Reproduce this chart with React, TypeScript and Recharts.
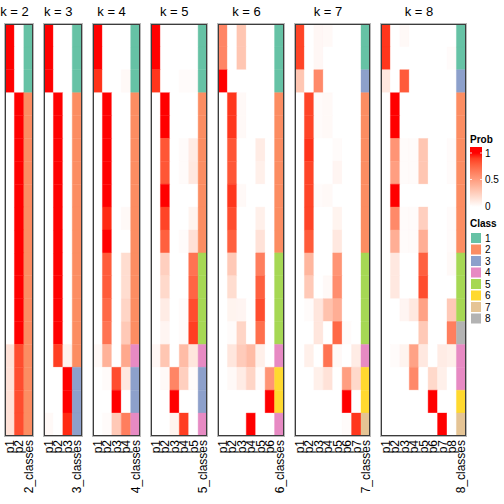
import React from 'react'
import { BarChart, Bar, XAxis, YAxis, Cell } from 'recharts'

// membership probabilities, 18 samples (rows) per k
const probs2 = [
  [1, 0], [1, 0], [1, 0],
  [0, 1], [0, 1], [0, 1], [0, 1], [0, 1], [0, 1], [0, 1], [0, 1], [0, 1], [0, 1], [0, 1],
  [0.15, 0.85], [0.15, 0.85], [0.15, 0.85], [0.15, 0.85],
]
const probs3 = [
  [1, 0, 0], [1, 0, 0], [1, 0, 0],
  [0, 1, 0], [0, 1, 0], [0, 1, 0], [0, 1, 0], [0, 1, 0], [0, 1, 0], [0, 1, 0], [0, 1, 0], [0, 1, 0], [0, 1, 0], [0, 1, 0],
  [0, 0.9, 0.07],
  [0, 0, 1], [0, 0, 1],
  [0.03, 0, 0.95],
]
const probs4 = [
  [1, 0, 0, 0], [1, 0, 0, 0], [0.93, 0, 0, 0.03],
  [0, 1, 0, 0], [0, 1, 0, 0], [0, 1, 0, 0], [0, 1, 0, 0], [0, 1, 0, 0],
  [0, 0.95, 0, 0.03], [0, 1, 0, 0],
  [0, 0.8, 0, 0.18], [0, 0.8, 0, 0.18], [0, 0.75, 0, 0.22], [0, 0.7, 0, 0.28],
  [0.03, 0.4, 0, 0.45],
  [0, 0.02, 0.85, 0.12], [0, 0, 1, 0],
  [0, 0.02, 0.28, 0.65],
]
const probs5 = [
  [1, 0, 0, 0, 0], [1, 0, 0, 0, 0], [0.92, 0, 0, 0.02, 0.02],
  [0, 1, 0, 0, 0], [0, 1, 0, 0, 0],
  [0, 0.82, 0, 0.02, 0.1], [0, 0.82, 0, 0.02, 0.12],
  [0, 1, 0, 0, 0], [0, 0.88, 0, 0, 0.06], [0, 0.78, 0, 0.02, 0.16],
  [0, 0.25, 0, 0, 0.7], [0, 0.2, 0, 0, 0.76], [0, 0.1, 0, 0.02, 0.85], [0, 0.05, 0, 0.02, 0.9],
  [0.04, 0.3, 0, 0.35, 0.13],
  [0, 0.03, 0.62, 0.25, 0.02], [0, 0, 1, 0, 0],
  [0, 0, 0.06, 0.9, 0],
]
const probs6 = [
  [0.62, 0, 0.3, 0, 0, 0], [0.62, 0, 0.3, 0, 0, 0], [1, 0, 0, 0, 0, 0],
  [0, 0.92, 0.03, 0, 0, 0], [0, 0.92, 0.03, 0, 0, 0],
  [0, 0.82, 0, 0, 0.1, 0], [0, 0.82, 0, 0, 0.08, 0],
  [0, 0.92, 0.03, 0, 0, 0], [0, 0.85, 0, 0, 0.08, 0], [0, 0.78, 0, 0, 0.15, 0],
  [0, 0.28, 0, 0, 0.65, 0], [0, 0.18, 0, 0, 0.78, 0], [0, 0.06, 0.05, 0, 0.85, 0], [0, 0.02, 0.22, 0, 0.72, 0],
  [0, 0.13, 0.27, 0.35, 0.08, 0],
  [0, 0.03, 0.1, 0.22, 0.02, 0.55], [0, 0, 0, 0, 0, 1],
  [0, 0, 0, 1, 0, 0],
]
const probs7 = [
  [0.88, 0, 0.04, 0.03, 0, 0, 0], [0.88, 0, 0.04, 0, 0, 0, 0], [0.3, 0, 0.6, 0, 0, 0, 0],
  [0, 0.88, 0.02, 0.03, 0, 0, 0], [0, 0.88, 0.02, 0.03, 0, 0, 0],
  [0, 0.93, 0, 0, 0.02, 0, 0], [0, 0.88, 0, 0, 0.05, 0, 0],
  [0, 0.88, 0.02, 0.03, 0, 0, 0], [0, 0.88, 0, 0, 0.06, 0, 0], [0, 0.8, 0, 0, 0.12, 0, 0],
  [0, 0.38, 0, 0, 0.55, 0, 0], [0, 0.28, 0, 0.03, 0.58, 0, 0],
  [0, 0.02, 0.13, 0.32, 0.42, 0, 0], [0, 0, 0.13, 0, 0.75, 0.02, 0],
  [0, 0.08, 0, 0.7, 0.03, 0, 0.1],
  [0, 0, 0.08, 0.15, 0, 0.5, 0.2], [0, 0, 0, 0, 0, 1, 0],
  [0, 0, 0, 0, 0, 0.02, 0.92],
]
const probs8 = [
  [0.92, 0, 0.03, 0, 0, 0, 0, 0], [0.92, 0, 0, 0, 0, 0, 0, 0.02], [0.12, 0, 0.8, 0, 0, 0, 0, 0],
  [0, 1, 0, 0, 0, 0, 0, 0], [0, 1, 0, 0, 0, 0, 0, 0],
  [0, 0.55, 0.02, 0.02, 0.3, 0, 0, 0.02], [0, 0.5, 0.02, 0.02, 0.3, 0, 0, 0.02],
  [0, 1, 0, 0, 0, 0, 0, 0],
  [0, 0.6, 0.02, 0.02, 0.25, 0, 0, 0.02], [0, 0.42, 0.02, 0.02, 0.42, 0, 0, 0.02],
  [0, 0.12, 0, 0, 0.78, 0, 0, 0.03], [0, 0.12, 0, 0, 0.85, 0, 0, 0],
  [0, 0, 0.05, 0.12, 0.48, 0, 0, 0.28],
  [0, 0, 0, 0, 0.28, 0, 0, 0.65],
  [0, 0.02, 0.06, 0.48, 0.12, 0, 0.1, 0.08], [0, 0, 0, 0.6, 0, 0.2, 0.08, 0],
  [0, 0, 0, 0, 0, 1, 0, 0],
  [0, 0, 0, 0, 0, 0, 1, 0],
]

// predicted class per row
const classes2 = [1, 1, 1, 2, 2, 2, 2, 2, 2, 2, 2, 2, 2, 2, 2, 2, 2, 2]
const classes3 = [1, 1, 1, 2, 2, 2, 2, 2, 2, 2, 2, 2, 2, 2, 2, 3, 3, 3]
const classes4 = [1, 1, 1, 2, 2, 2, 2, 2, 2, 2, 2, 2, 2, 2, 4, 3, 3, 4]
const classes5 = [1, 1, 1, 2, 2, 2, 2, 2, 2, 2, 5, 5, 5, 5, 4, 3, 3, 4]
const classes6 = [1, 1, 1, 2, 2, 2, 2, 2, 2, 2, 5, 5, 5, 5, 4, 6, 6, 4]
const classes7 = [1, 1, 3, 2, 2, 2, 2, 2, 2, 2, 5, 5, 5, 5, 4, 6, 6, 7]
const classes8 = [1, 1, 3, 2, 2, 2, 2, 2, 2, 2, 5, 5, 5, 8, 4, 4, 6, 7]

const classColors = ['#66C2A5', '#FC8D62', '#8DA0CB', '#E78AC3', '#A6D854', '#FFD92F', '#E5C494', '#B3B3B3']
const classLabels = ['1', '2', '3', '4', '5', '6', '7', '8']
const probTicks = [1, 0.5, 0]

const panels = [
  { k: 2, probs: probs2, classes: classes2 },
  { k: 3, probs: probs3, classes: classes3 },
  { k: 4, probs: probs4, classes: classes4 },
  { k: 5, probs: probs5, classes: classes5 },
  { k: 6, probs: probs6, classes: classes6 },
  { k: 7, probs: probs7, classes: classes7 },
  { k: 8, probs: probs8, classes: classes8 },
]

const N_ROWS = 18
const COL_W = 9.43
const GAP = 10.85
const LEFT0 = 5
const TOP = 24
const PLOT_H = 412
const AXIS_H = 70
const PAD = 10
const FONT = '"Liberation Sans", Arial, Helvetica, sans-serif'

// white -> red interpolated in LAB, like colorRamp2
const RED_LAB = [53.2408, 80.0925, 67.2032]
function probColor(p: number) {
  const L = 100 + (RED_LAB[0] - 100) * p
  const A = RED_LAB[1] * p
  const B = RED_LAB[2] * p
  const fy = (L + 16) / 116
  const fx = fy + A / 500
  const fz = fy - B / 200
  const finv = (t: number) => (t * t * t > 0.008856 ? t * t * t : (t - 16 / 116) / 7.787)
  const X = 0.95047 * finv(fx)
  const Y = finv(fy)
  const Z = 1.08883 * finv(fz)
  const lin = [
    3.2406 * X - 1.5372 * Y - 0.4986 * Z,
    -0.9689 * X + 1.8758 * Y + 0.0415 * Z,
    0.0557 * X - 0.204 * Y + 1.057 * Z,
  ]
  const out = lin.map((c) => {
    const v = c <= 0.0031308 ? 12.92 * c : 1.055 * Math.pow(c, 1 / 2.4) - 0.055
    return Math.round(Math.min(1, Math.max(0, v)) * 255)
  })
  return `rgb(${out[0]},${out[1]},${out[2]})`
}

const rows = Array.from({ length: N_ROWS }, (_, i) => i)

function ColTick(props: any) {
  const { x, payload } = props
  const y = PLOT_H + 4
  return (
    <text
      x={x}
      y={y}
      dy="0.36em"
      transform={`rotate(-90, ${x}, ${y})`}
      textAnchor="end"
      fontSize={12}
      fontFamily={FONT}
      fill="#000"
    >
      {payload.value}
    </text>
  )
}

function Panel({ k, probs, classes, left }: any) {
  const cols = [...Array.from({ length: k }, (_, j) => `p${j + 1}`), `${k}_classes`]
  const data = cols.map((col) => {
    const d: any = { col }
    rows.forEach((i) => (d[`r${i}`] = 1))
    return d
  })
  const width = cols.length * COL_W
  const fillFor = (j: number, i: number) =>
    j < k ? probColor(probs[i][j]) : classColors[classes[i] - 1]

  return (
    <div style={{ position: 'absolute', left: left - PAD, top: TOP }}>
      <BarChart
        width={width + 2 * PAD}
        height={PLOT_H + AXIS_H}
        data={data}
        margin={{ top: 0, right: PAD, bottom: 0, left: PAD }}
        barCategoryGap={0}
        barGap={0}
      >
        <XAxis
          dataKey="col"
          type="category"
          interval={0}
          tickLine={false}
          axisLine={false}
          height={AXIS_H}
          tick={<ColTick />}
        />
        <YAxis type="number" domain={[0, N_ROWS]} reversed hide allowDataOverflow />
        {rows.map((i) => (
          <Bar
            key={i}
            dataKey={`r${i}`}
            stackId="s"
            barSize={COL_W - 0.002}
            isAnimationActive={false}
          >
            {data.map((_, j) => (
              <Cell key={j} fill={fillFor(j, i)} stroke={fillFor(j, i)} strokeWidth={0.4} />
            ))}
          </Bar>
        ))}
      </BarChart>
      <div
        style={{
          position: 'absolute',
          left: PAD,
          top: 0,
          width,
          height: PLOT_H,
          border: '1px solid #3c3c3c',
          boxShadow: '0 0 0 1px #b8b8b8',
          boxSizing: 'border-box',
          pointerEvents: 'none',
        }}
      />
    </div>
  )
}

export default function App() {
  let x = LEFT0
  const placed = panels.map((p) => {
    const left = x
    x += (p.k + 1) * COL_W + GAP
    return { ...p, left }
  })

  return (
    <div style={{ position: 'absolute', left: 0, top: 0, width: 504, height: 504, background: '#fff', overflow: 'hidden' }}>
      {placed.map((p) => (
        <Panel key={p.k} {...p} />
      ))}
      <svg width={504} height={504} style={{ position: 'absolute', left: 0, top: 0, pointerEvents: 'none' }}>
        <defs>
          <linearGradient id="probGrad" x1="0" y1="0" x2="0" y2="1">
            {[0, 0.1, 0.2, 0.3, 0.4, 0.5, 0.6, 0.7, 0.8, 0.9, 1].map((t) => (
              <stop key={t} offset={0.1 + t * 0.9} stopColor={probColor(1 - t)} />
            ))}
          </linearGradient>
        </defs>
        {placed.map((p) => (
          <text
            key={p.k}
            x={p.left + (p.k * COL_W) / 2}
            y={16}
            textAnchor="middle"
            fontSize={13}
            fontFamily={FONT}
          >
            {`k = ${p.k}`}
          </text>
        ))}
        {/* Prob legend */}
        <text x={470} y={143} fontSize={10} fontWeight="bold" fontFamily={FONT}>Prob</text>
        <rect x={470} y={147} width={12} height={60} fill="url(#probGrad)" />
        {probTicks.map((v) => {
          const yy = 153 + (1 - v) * 53
          return (
            <g key={v}>
              <line x1={470} x2={472} y1={yy} y2={yy} stroke="#fff" strokeWidth={0.8} />
              <line x1={480} x2={482} y1={yy} y2={yy} stroke="#fff" strokeWidth={0.8} />
              <text x={485} y={yy} dy="0.35em" fontSize={10} fontFamily={FONT}>{String(v)}</text>
            </g>
          )
        })}
        {/* Class legend */}
        <text x={470} y={227} fontSize={10} fontWeight="bold" fontFamily={FONT}>Class</text>
        {classLabels.map((lab, i) => {
          const yy = 238 + i * 11.5
          return (
            <g key={lab}>
              <rect x={471} y={yy - 5} width={10} height={10} fill={classColors[i]} />
              <text x={485} y={yy} dy="0.35em" fontSize={10} fontFamily={FONT}>{lab}</text>
            </g>
          )
        })}
      </svg>
    </div>
  )
}
